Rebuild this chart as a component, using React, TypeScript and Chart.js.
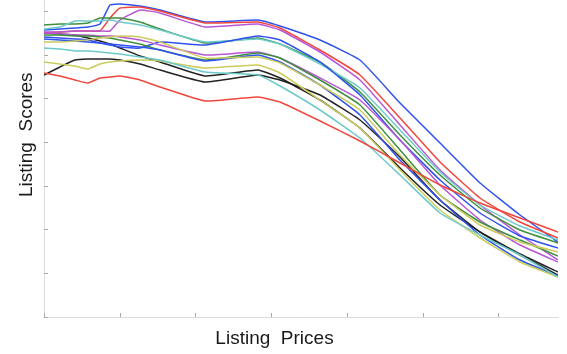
import { useEffect, useRef } from "react";
import { Chart, registerables } from "chart.js";

Chart.register(...registerables);

// Listing prices (x positions shared by all series, arbitrary units)
const prices = [0, 16, 31, 44, 56, 66, 76, 96, 116, 161, 214, 236, 276, 316, 356, 396, 436, 476, 514];

// Listing scores per series (arbitrary units)
const blueA = [287, 288, 289, 290, 293, 312, 313, 311, 307, 295, 297, 291, 277, 257, 214, 174, 134, 102, 75];
const redA = [284, 285, 286, 286, 286, 299, 309, 310, 306, 294, 295, 289, 267, 242, 199, 155, 119, 95, 79];
const purpleA = [285, 285, 286, 286, 286, 286, 297, 307, 304, 290, 293, 287, 265, 237, 192, 147, 112, 82, 57];
const greenA = [292, 293, 293, 294, 299, 299, 299, 295, 288, 274, 279, 273, 255, 225, 182, 142, 109, 87, 74];
const tealA = [288, 290, 296, 296, 296, 297, 295, 292, 287, 275, 278, 273, 253, 229, 187, 145, 112, 91, 77];
const blueB = [280, 279, 278, 277, 274, 272, 270, 269, 275, 272, 281, 277, 255, 222, 177, 137, 104, 81, 69];
const blueC = [278, 277, 276, 275, 274, 273, 272, 270, 267, 256, 262, 255, 232, 202, 157, 117, 82, 57, 41];
const purpleB = [284, 283, 282, 282, 281, 281, 280, 277, 272, 262, 265, 259, 239, 217, 177, 132, 97, 72, 55];
const greenB = [282, 282, 281, 281, 280, 279, 277, 273, 267, 257, 264, 259, 237, 212, 167, 122, 95, 77, 61];
const yellowA = [275, 275, 276, 277, 279, 280, 281, 280, 275, 259, 260, 254, 232, 207, 162, 122, 92, 75, 65];
const blackA = [284, 283, 282, 279, 276, 273, 269, 261, 255, 241, 247, 239, 217, 189, 149, 112, 85, 63, 45];
const yellowB = [255, 253, 251, 248, 253, 255, 256, 257, 256, 249, 252, 244, 217, 189, 147, 107, 79, 55, 40];
const tealB = [269, 268, 266, 266, 265, 264, 263, 260, 257, 245, 242, 231, 207, 179, 142, 104, 82, 62, 40];
const blackB = [242, 250, 257, 258, 258, 258, 257, 253, 247, 235, 242, 237, 222, 197, 160, 117, 85, 62, 42];
const redB = [244, 241, 237, 234, 239, 240, 241, 237, 230, 216, 220, 215, 196, 176, 154, 132, 114, 99, 85];

const BLUE = "#2f52f0";
const RED = "#f0463c";
const PURPLE = "#b956d4";
const GREEN = "#3f8f3f";
const TEAL = "#6ccaca";
const BLACK = "#222222";
const YELLOW = "#cccc5c";

const seriesList: [string, number[], string][] = [
  ["redB", redB, RED],
  ["tealB", tealB, TEAL],
  ["yellowB", yellowB, YELLOW],
  ["yellowA", yellowA, YELLOW],
  ["blueC", blueC, BLUE],
  ["greenB", greenB, GREEN],
  ["purpleB", purpleB, PURPLE],
  ["blueB", blueB, BLUE],
  ["tealA", tealA, TEAL],
  ["greenA", greenA, GREEN],
  ["purpleA", purpleA, PURPLE],
  ["redA", redA, RED],
  ["blueA", blueA, BLUE],
  ["blackB", blackB, BLACK],
  ["blackA", blackA, BLACK],
];

const X_TITLE = "Listing  Prices";
const Y_TITLE = "Listing  Scores";

const axisDecor = {
  id: "axisDecor",
  afterDraw(chart: any) {
    const { ctx, chartArea, scales } = chart;
    ctx.save();
    ctx.strokeStyle = "#a8a8a8";
    ctx.lineWidth = 1;
    scales.x.ticks.forEach((t: any) => {
      const px = Math.round(scales.x.getPixelForValue(t.value)) + 0.5;
      ctx.beginPath();
      ctx.moveTo(px, chartArea.bottom);
      ctx.lineTo(px, chartArea.bottom - 4);
      ctx.stroke();
    });
    scales.y.ticks.forEach((t: any) => {
      const py = Math.round(scales.y.getPixelForValue(t.value)) + 0.5;
      ctx.beginPath();
      ctx.moveTo(chartArea.left, py);
      ctx.lineTo(chartArea.left + 4, py);
      ctx.stroke();
    });
    ctx.fillStyle = "#1a1a1a";
    ctx.font = '19px "Liberation Sans", Arial, sans-serif';
    ctx.textAlign = "center";
    ctx.textBaseline = "alphabetic";
    ctx.fillText(X_TITLE, chartArea.left + 230.5, chartArea.bottom + 27);
    ctx.translate(chartArea.left - 11.7, chartArea.top + 134.7);
    ctx.rotate(-Math.PI / 2);
    ctx.fillText(Y_TITLE, 0, 0);
    ctx.restore();
  },
};

export default function App() {
  const ref = useRef<HTMLCanvasElement | null>(null);
  useEffect(() => {
    if (!ref.current) return;
    const chart = new Chart(ref.current, {
      type: "line",
      data: {
        datasets: seriesList.map(([label, values, color]) => ({
          label,
          data: values.map((v, i) => ({ x: prices[i], y: v })),
          borderColor: color,
          backgroundColor: color,
          borderWidth: 1.5,
          pointRadius: 0,
          tension: 0.12,
          fill: false,
        })),
      },
      options: {
        responsive: false,
        animation: false,
        events: [],
        layout: { padding: { left: 44, right: 9, top: 0, bottom: 37 } },
        plugins: { legend: { display: false }, tooltip: { enabled: false } },
        scales: {
          x: {
            type: "linear",
            min: 0,
            max: 514,
            grid: { display: false, drawTicks: false },
            border: { display: true, color: "#dcdcdc", width: 1 },
            ticks: { display: false, stepSize: 75.7, includeBounds: false },
          },
          y: {
            type: "linear",
            min: 0,
            max: 317,
            grid: { display: false, drawTicks: false },
            border: { display: true, color: "#dcdcdc", width: 1 },
            ticks: { display: false, stepSize: 43.75, includeBounds: false },
          },
        },
      },
      plugins: [axisDecor],
    });
    return () => chart.destroy();
  }, []);
  return (
    <canvas
      ref={ref}
      width={567}
      height={354}
      style={{ position: "absolute", left: 0, top: 0, display: "block", background: "#fff" }}
    />
  );
}
